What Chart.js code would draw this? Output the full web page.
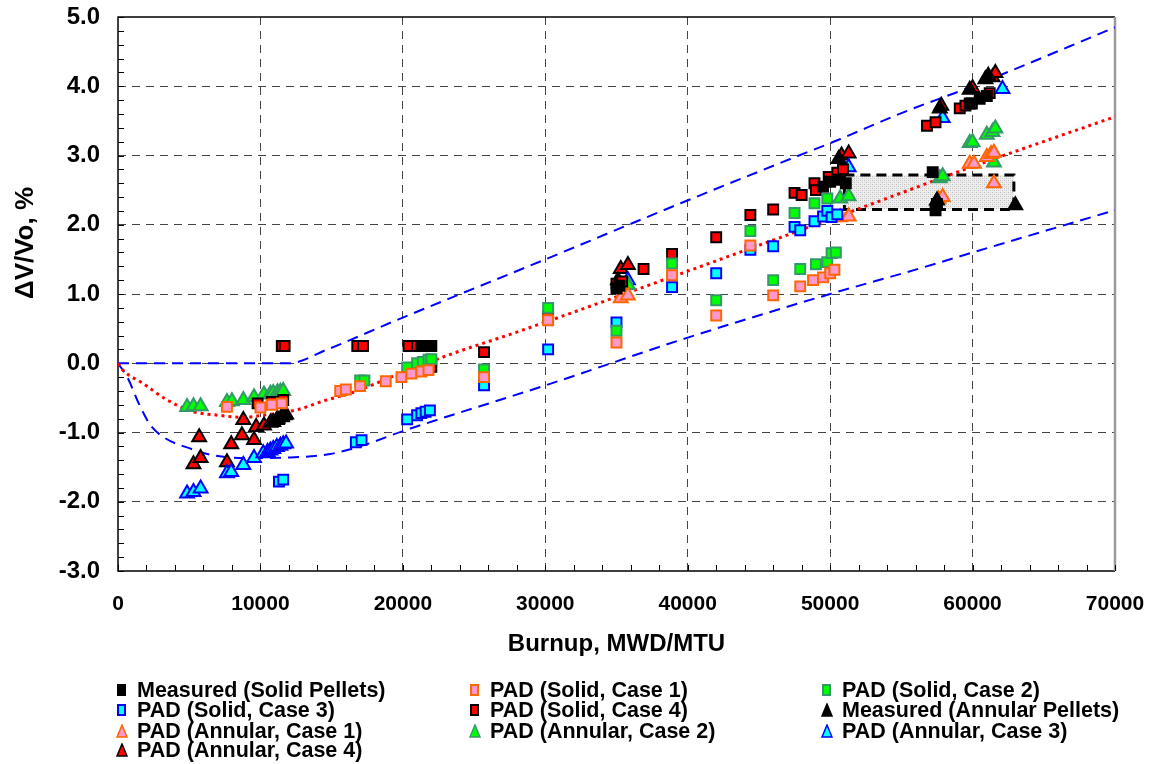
<!DOCTYPE html>
<html>
<head>
<meta charset="utf-8">
<script src="https://cdn.jsdelivr.net/npm/chart.js@4.4.1/dist/chart.umd.min.js"></script>
<style>
body{margin:0;background:#fff;}
#wrap{position:relative;width:1160px;height:764px;}
#chartCanvas{position:absolute;left:0;top:0;}
.item{position:absolute;white-space:nowrap;font:bold 21.5px "Liberation Sans",Arial,sans-serif;line-height:20px;color:#000;}
.item svg{position:absolute;left:-21px;top:3px;}
</style>
</head>
<body>
<div id="wrap">
<canvas id="chartCanvas" width="1160" height="764"></canvas>
<div id="legend"></div>
</div>
<script>
// axis ticks
const xTicks = [0, 10000, 20000, 30000, 40000, 50000, 60000, 70000];
const yTicks = [-3, -2, -1, 0, 1, 2, 3, 4, 5];

// measured and PAD points: [burnup, dV/Vo %]
const measuredSolid = [[21300,0.25],[21600,0.25],[21900,0.25],[22000,0.25],[35000,1.08],[35200,1.12],[49500,2.55],[50000,2.62],[50500,2.65],[51100,2.6],[57200,2.76],[57400,2.21],[57500,2.3],[59800,3.75],[60500,3.82],[61000,3.86]];
const padSolid1 = [[7650,-0.63],[10000,-0.64],[10800,-0.6],[11500,-0.58],[15600,-0.4],[16000,-0.38],[17000,-0.33],[18800,-0.26],[19900,-0.2],[20600,-0.15],[21300,-0.12],[21800,-0.1],[25700,-0.2],[30200,0.62],[35000,0.3],[38900,1.27],[42000,0.69],[44400,1.7],[46000,0.98],[47900,1.11],[48800,1.2],[49500,1.24],[50000,1.3],[50300,1.35]];
const padSolid2 = [[17000,-0.25],[17300,-0.25],[20300,-0.06],[21000,0.0],[21400,0.02],[21800,0.05],[22000,0.06],[25700,-0.09],[30200,0.8],[35000,0.47],[38900,1.44],[42000,0.91],[44400,1.91],[46000,1.2],[47500,2.17],[47900,1.36],[48900,2.31],[49000,1.43],[49800,1.46],[49800,2.38],[50100,1.59],[50400,1.6]];
const padSolid3 = [[11300,-1.71],[11600,-1.68],[16700,-1.14],[17100,-1.11],[20300,-0.81],[21000,-0.75],[21300,-0.72],[21600,-0.7],[21900,-0.68],[25700,-0.32],[30200,0.2],[35000,0.59],[38900,1.1],[42000,1.3],[44400,1.64],[46000,1.69],[47500,1.97],[47900,1.92],[48900,2.05],[49500,2.12],[49800,2.2],[50100,2.11],[50500,2.15]];
const padSolid4 = [[9800,-0.58],[10800,-0.56],[11600,-0.53],[11500,0.25],[11700,0.25],[16800,0.25],[17200,0.25],[20400,0.25],[21000,0.25],[20500,-0.12],[21200,-0.1],[21700,-0.07],[22000,-0.05],[25700,0.16],[30200,0.68],[35000,1.15],[35400,1.18],[36900,1.36],[38900,1.58],[42000,1.82],[44400,2.14],[46000,2.22],[47500,2.46],[48000,2.43],[48900,2.6],[49000,2.5],[49900,2.69],[50500,2.75],[50900,2.8],[56800,3.43],[57400,3.48],[59100,3.68],[59500,3.72],[59950,3.75],[61200,3.9]];
const measuredAnnular = [[10900,-0.85],[11200,-0.8],[11500,-0.77],[11800,-0.74],[35100,1.2],[50600,2.95],[57500,2.35],[57700,3.68],[59800,3.95],[60900,4.1],[61100,4.15],[63000,2.28]];
const padAnnular1 = [[35300,0.94],[35800,0.98],[50700,2.11],[51300,2.12],[57600,2.37],[57900,2.4],[59800,2.88],[60100,2.88],[61000,2.98],[61300,3.02],[61500,3.04],[61500,2.6]];
const padAnnular2 = [[4850,-0.63],[5300,-0.62],[5800,-0.62],[7650,-0.56],[8000,-0.55],[8800,-0.53],[9550,-0.49],[10250,-0.45],[10700,-0.44],[10900,-0.43],[11200,-0.42],[11400,-0.41],[11600,-0.4],[35800,1.13],[50700,2.38],[51300,2.41],[57700,2.67],[57900,2.7],[59800,3.18],[60000,3.19],[61000,3.3],[61400,3.34],[61600,3.39],[61500,2.9]];
const padAnnular3 = [[4850,-1.88],[5300,-1.86],[5800,-1.81],[7650,-1.59],[7950,-1.57],[8800,-1.47],[9550,-1.37],[10200,-1.3],[10500,-1.28],[10700,-1.26],[10900,-1.24],[11150,-1.21],[11400,-1.19],[11600,-1.17],[11800,-1.16],[35800,1.2],[51300,2.83],[57900,3.54],[62100,3.96]];
const padAnnular4 = [[5300,-1.46],[5800,-1.37],[5700,-1.07],[7650,-1.43],[7950,-1.17],[8700,-1.04],[8800,-0.82],[9550,-1.11],[9700,-0.92],[10250,-0.9],[10700,-0.86],[11150,-0.82],[11500,-0.78],[11700,-0.75],[35300,1.36],[35800,1.42],[50800,3.0],[51300,3.03],[57800,3.72],[60000,3.97],[61400,4.13],[61600,4.19]];

// fitted curve and bounds
const bestFit = [[0,0],[350,-0.1],[1750,-0.29],[3450,-0.53],[5300,-0.7],[7000,-0.75],[8800,-0.78],[10200,-0.75],[12600,-0.67],[14500,-0.54],[16500,-0.42],[20000,-0.13],[23500,0.14],[28000,0.45],[40000,1.33],[52000,2.23],[60000,2.84],[70000,3.56]];
const upperBound = [[0,0],[12000,0],[14700,0.2],[19300,0.6],[30000,1.5],[39500,2.31],[47200,2.95],[50500,3.22],[55100,3.62],[60000,4.0],[70000,4.85]];
const lowerBound = [[0,0],[700,-0.22],[1500,-0.6],[2300,-0.9],[3300,-1.08],[5050,-1.23],[6700,-1.33],[8800,-1.37],[12100,-1.36],[14900,-1.31],[17000,-1.2],[20000,-0.98],[30000,-0.32],[40000,0.37],[50000,1.0],[56300,1.37],[60000,1.6],[70000,2.21]];

// shaded band (burnup range, dV/Vo range)
const bandX = [51000, 62900];
const bandY = [2.22, 2.72];

const FONT = '"Liberation Sans", Arial, sans-serif';

function pts(arr){ return arr.map(p => ({x:p[0], y:p[1]})); }

function marks(label, data, shape, fill, edge){
    return {
        label: label, data: pts(data), showLine:false,
        pointStyle: shape, pointRadius: shape === 'rect' ? 7 : 8,
        backgroundColor: fill, borderColor: edge, borderWidth: 2, order: 1
    };
}
function curve(data, color, width, dash){
    return {
        label: '', data: pts(data), showLine:true, pointRadius:0,
        borderColor: color, borderWidth: width, borderDash: dash,
        cubicInterpolationMode:'monotone', fill:false, order: 5
    };
}

const series = [
    ['Measured (Solid Pellets)', measuredSolid, 'rect', '#000000', '#000000'],
    ['PAD (Solid, Case 1)', padSolid1, 'rect', '#FF99CC', '#FF6600'],
    ['PAD (Solid, Case 2)', padSolid2, 'rect', '#00FF00', '#339966'],
    ['PAD (Solid, Case 3)', padSolid3, 'rect', '#00FFFF', '#0000FF'],
    ['PAD (Solid, Case 4)', padSolid4, 'rect', '#FF0000', '#000000'],
    ['Measured (Annular Pellets)', measuredAnnular, 'triangle', '#000000', '#000000'],
    ['PAD (Annular, Case 1)', padAnnular1, 'triangle', '#FF99CC', '#FF6600'],
    ['PAD (Annular, Case 2)', padAnnular2, 'triangle', '#00FF00', '#339966'],
    ['PAD (Annular, Case 3)', padAnnular3, 'triangle', '#00FFFF', '#0000FF'],
    ['PAD (Annular, Case 4)', padAnnular4, 'triangle', '#FF0000', '#000000']
];

let datasets = series.map(s => marks(s[0], s[1], s[2], s[3], s[4]));
datasets.push(curve(bestFit, '#FF0000', 3, [3,4]));
datasets.push(curve(upperBound, '#0000FF', 2, [11,7]));
datasets.push(curve(lowerBound, '#0000FF', 2, [11,7]));

function makePattern(){
    let c = document.createElement('canvas');
    c.width = 4; c.height = 4;
    let g = c.getContext('2d');
    g.fillStyle = '#eeeeee'; g.fillRect(0,0,4,4);
    g.fillStyle = '#bdbdbd';
    g.fillRect(0,0,1,1); g.fillRect(2,2,1,1);
    g.fillStyle = '#d6d6d6';
    g.fillRect(2,0,1,1); g.fillRect(0,2,1,1);
    return c;
}

const extras = {
    id: 'extras',
    beforeDatasetsDraw(chart){
        const ctx = chart.ctx, xs = chart.scales.x, ys = chart.scales.y;
        const a = chart.chartArea;
        ctx.save();
        // band
        let x0 = xs.getPixelForValue(bandX[0]), x1 = xs.getPixelForValue(bandX[1]);
        let y0 = ys.getPixelForValue(bandY[1]), y1 = ys.getPixelForValue(bandY[0]);
        ctx.fillStyle = ctx.createPattern(makePattern(), 'repeat');
        ctx.fillRect(x0, y0, x1 - x0, y1 - y0);
        ctx.setLineDash([10,6]);
        ctx.lineWidth = 3;
        ctx.strokeStyle = '#000';
        ctx.strokeRect(x0, y0, x1 - x0, y1 - y0);
        ctx.setLineDash([]);
        // frame
        ctx.lineWidth = 1.5;
        ctx.strokeStyle = '#000';
        ctx.beginPath();
        ctx.moveTo(a.right, a.top); ctx.lineTo(a.left, a.top);
        ctx.lineTo(a.left, a.bottom); ctx.lineTo(a.right, a.bottom);
        ctx.stroke();
        ctx.strokeStyle = '#9a9a9a';
        ctx.lineWidth = 2.5;
        ctx.beginPath();
        ctx.moveTo(a.right, a.top); ctx.lineTo(a.right, a.bottom);
        ctx.stroke();
        // minor ticks inside
        ctx.strokeStyle = '#000';
        ctx.lineWidth = 1;
        ctx.beginPath();
        for(let v = 0; v <= 70000; v += 2000){
            let p = Math.round(xs.getPixelForValue(v)) + 0.5;
            ctx.moveTo(p, a.bottom); ctx.lineTo(p, a.bottom - 6);
        }
        for(let i = 0; i <= 40; i++){
            let p = Math.round(ys.getPixelForValue(-3 + i * 0.2)) + 0.5;
            ctx.moveTo(a.left, p); ctx.lineTo(a.left + 6, p);
        }
        ctx.stroke();
        ctx.restore();
    },
    afterDraw(chart){
        const ctx = chart.ctx;
        ctx.save();
        ctx.translate(26, 243);
        ctx.rotate(-Math.PI / 2);
        ctx.textAlign = 'center';
        ctx.textBaseline = 'middle';
        ctx.fillStyle = '#000';
        ctx.font = 'bold 26px ' + FONT;
        ctx.fillText('\u0394V/Vo, %', 0, 0);
        ctx.restore();
    }
};

function gridColor(c){
    let v = c.tick ? c.tick.value : null;
    if(c.scale.axis === 'x' && (v === 0 || v === 70000)) return 'rgba(0,0,0,0)';
    if(c.scale.axis === 'y' && (v === -3 || v === 5)) return 'rgba(0,0,0,0)';
    return '#444444';
}

let chartInstance = new Chart(document.getElementById('chartCanvas').getContext('2d'), {
    type: 'scatter',
    data: { datasets: datasets },
    options: {
        responsive: false,
        animation: false,
        layout: { padding: { left: 0, right: 45, top: 17, bottom: 105 } },
        plugins: { legend: { display: false }, tooltip: { enabled: false } },
        scales: {
            x: {
                type: 'linear', min: xTicks[0], max: xTicks[xTicks.length - 1],
                afterBuildTicks: s => { s.ticks = xTicks.map(v => ({value: v})); },
                ticks: { padding: 21, color: '#000', maxRotation: 0, autoSkip: false,
                    font: { family: FONT, size: 21, weight: 'bold' },
                    callback: v => String(v) },
                grid: { color: gridColor, drawTicks: false, lineWidth: 1 },
                border: { display: false, dash: [8,6] },
                title: { display: true, text: 'Burnup, MWD/MTU', color: '#000', padding: 0,
                    font: { family: FONT, size: 24, weight: 'bold' } },
                afterFit: s => { s.height = 88; s.paddingLeft = 0; s.paddingRight = 0; }
            },
            y: {
                type: 'linear', min: yTicks[0], max: yTicks[yTicks.length - 1],
                afterBuildTicks: s => { s.ticks = yTicks.map(v => ({value: v})); },
                ticks: { padding: 18, color: '#000',
                    font: { family: FONT, size: 24, weight: 'bold' },
                    callback: v => Number(v).toFixed(1) },
                grid: { color: gridColor, drawTicks: false, lineWidth: 1 },
                border: { display: false, dash: [8,6] },
                afterFit: s => { s.width = 118; s.paddingTop = 0; s.paddingBottom = 0; }
            }
        }
    },
    plugins: [extras]
});

// legend in three columns like the original
const legendPos = [[137,680],[490,680],[842,680],[137,700],[490,700],[842,700],[137,721],[490,721],[842,721],[137,740]];
const legend = document.getElementById('legend');
series.forEach((s, k) => {
    let div = document.createElement('div');
    div.className = 'item';
    div.style.left = legendPos[k][0] + 'px';
    div.style.top = legendPos[k][1] + 'px';
    let shape = s[2] === 'rect'
        ? `<rect x="2" y="2" width="7" height="10" fill="${s[3]}" stroke="${s[4]}" stroke-width="2"/>`
        : `<polygon points="6,1 11,13 1,13" fill="${s[3]}" stroke="${s[4]}" stroke-width="1.5"/>`;
    div.innerHTML = `<svg width="12" height="14">${shape}</svg>${s[0]}`;
    legend.appendChild(div);
});
</script>
</body>
</html>
